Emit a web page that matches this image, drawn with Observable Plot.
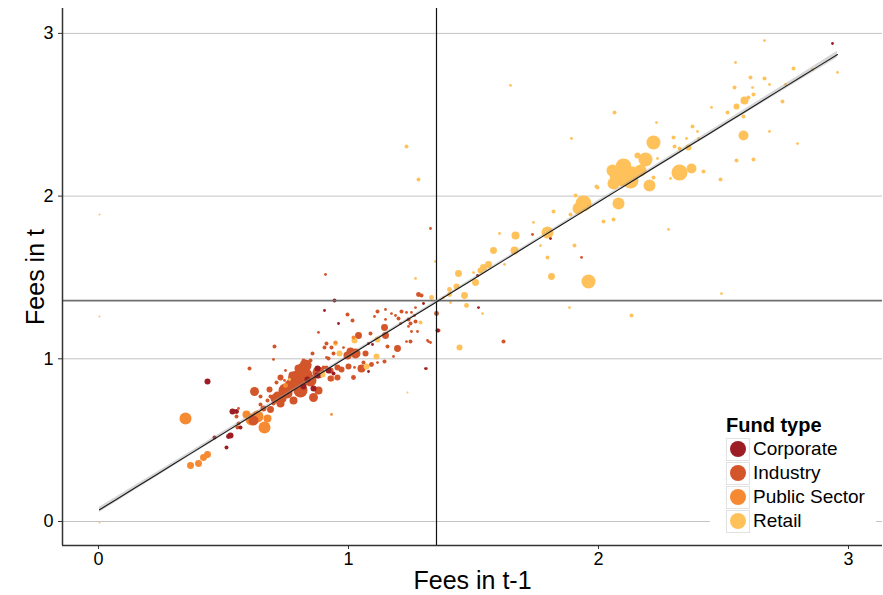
<!DOCTYPE html>
<html><head><meta charset="utf-8">
<script src="https://cdn.jsdelivr.net/npm/d3@7"></script>
<script src="https://cdn.jsdelivr.net/npm/@observablehq/plot@0.6"></script>
<style>
body{margin:0;background:#fff;font-family:"Liberation Sans",Arial,sans-serif;}
#wrap{position:relative;width:883px;height:595px;}
#legend{position:absolute;left:710px;top:406px;width:166px;height:133px;background:#fff;padding-left:16px;box-sizing:border-box;}
#legend .lt{font-weight:bold;font-size:20px;line-height:22px;margin-top:8px;height:23px;color:#000;}
#legend .row{display:flex;align-items:center;height:24px;}
#legend .key{width:24px;height:23px;border:1px solid #e2e2e2;box-sizing:border-box;display:flex;align-items:center;justify-content:center;background:#fff;}
#legend .dot{width:16px;height:16px;border-radius:50%;display:block;}
#legend .lab{font-size:19px;margin-left:3px;color:#000;}
</style></head><body><div id="wrap"></div>
<script>
const fundTypes = ["Corporate","Industry","Public Sector","Retail"];
const fundColors = ["#9c1d23","#d3552a","#f68a32","#ffc25b"];
const xLabel = "Fees in t-1";
const yLabel = "Fees in t";
const tickValues = [0,1,2,3];
const meanFeeT1 = 1.352;
const meanFeeT = 1.358;
// fitted linear model (fees t ~ fees t-1) and its confidence band
const fitIntercept = 0.068;
const fitSlope = 0.948;
const fitBandMin = 0.008;
const fitBandGrowth = 0.0045;

// [fees t-1, fees t, fund assets]
const publicFunds = [
[0.348,0.633,36],[0.592,0.658,16],[0.612,0.627,36],[0.636,0.645,36],[0.664,0.578,36],[0.676,0.633,16],
[0.436,0.412,12],[0.420,0.393,12],[0.400,0.356,12],[0.368,0.344,12],[0.932,0.658,2],[0.948,1.100,4],
[1.020,1.131,4],[0.932,0.879,9],[0.748,0.836,6]];

const industryFunds = [
[0.796,0.867,100],[0.776,0.897,16],[0.728,0.885,9],[0.712,0.854,4],[0.748,0.928,2],[0.744,0.867,2],
[0.860,0.762,20],[0.624,0.799,20],[0.684,0.811,9],[0.648,0.768,4],[0.688,0.768,4],[0.716,0.774,16],
[0.736,0.756,16],[0.700,0.725,4],[0.676,0.744,4],[0.780,0.744,16],[0.648,0.719,4],[0.660,0.695,9],
[0.688,0.688,12],[0.728,0.725,16],[0.560,0.695,2],[0.552,0.645,4],[0.620,0.621,25],[0.560,0.602,4],
[0.556,0.578,4],[0.704,1.076,4],[0.700,0.996,2],[0.604,0.940,4],[0.856,1.033,4],[0.820,0.990,4],
[0.808,0.959,4],[0.844,0.965,4],[0.800,0.940,16],[0.816,0.885,64],[0.880,1.162,2],[0.908,1.518,2],
[0.996,1.272,4],[1.016,1.235,4],[0.912,1.094,4],[0.932,1.069,4],[0.904,1.069,4],[0.980,1.069,2],
[0.940,1.033,4],[0.912,1.008,2],[0.900,0.947,4],[1.008,1.045,16],[1.028,1.033,25],[0.996,1.020,16],
[1.068,1.033,9],[1.060,0.977,4],[1.092,0.965,6],[1.144,0.983,4],[1.180,1.014,2],[1.116,0.977,2],
[0.920,1.002,4],[0.848,0.990,4],[0.836,0.971,9],[0.912,0.947,4],[0.928,0.928,9],[0.956,0.947,9],
[0.972,0.934,9],[1.000,0.953,9],[1.024,0.947,2],[1.052,0.940,16],[1.020,0.885,6],[0.928,0.879,9],
[0.956,0.885,9],[1.088,1.156,4],[1.040,1.143,12],[1.148,1.143,12],[1.196,1.063,12],[1.156,1.076,4],
[1.232,1.106,2],[1.248,1.106,4],[1.320,1.106,2],[1.116,1.291,4],[1.148,1.303,2],[1.172,1.278,2],
[1.188,1.266,2],[1.212,1.291,4],[1.232,1.285,2],[1.252,1.285,2],[1.264,1.266,2],[1.268,1.315,2],
[1.104,1.260,2],[1.144,1.192,12],[1.148,1.242,2],[1.200,1.248,4],[1.208,1.217,2],[1.240,1.242,4],
[1.248,1.217,4],[1.240,1.199,2],[1.252,1.168,2],[1.276,1.168,2],[1.280,1.395,6],[1.292,1.389,4],
[1.352,1.278,6],[1.360,1.174,4],[1.268,1.229,4],[1.316,1.113,2],[1.328,1.100,2],[1.328,1.801,2],
[1.620,1.106,4],[1.312,0.940,2],[0.828,0.897,49],[0.808,0.805,49],[0.768,0.836,36],[0.848,0.867,36],
[0.880,0.805,16],[0.756,0.787,25],[1.736,1.764,2],[1.932,1.623,2],[0.748,0.805,49],[0.828,0.959,36],
[0.880,0.916,36],[0.708,0.756,25]];

const retailFunds = [
[1.648,2.680,2],[2.064,2.514,4],[1.892,2.354,2],[2.232,2.452,2],[2.220,2.329,49],[1.232,2.305,4],
[1.280,2.102,4],[2.100,2.182,64],[2.188,2.225,49],[2.076,2.127,64],[2.136,2.139,49],[2.168,2.157,36],
[2.060,2.077,36],[2.096,2.096,36],[2.204,2.065,36],[2.156,2.250,9],[1.992,2.059,4],[1.940,1.955,64],
[1.920,1.924,36],[1.908,2.004,4],[2.080,1.955,36],[2.664,2.956,2],[2.548,2.821,2],[2.780,2.784,4],
[2.856,2.778,2],[2.956,2.760,2],[2.608,2.729,4],[2.664,2.723,4],[2.684,2.686,2],[2.748,2.686,2],
[2.544,2.667,4],[2.616,2.667,2],[2.620,2.624,4],[2.600,2.606,4],[2.584,2.588,16],[2.552,2.551,9],
[2.736,2.581,4],[2.516,2.514,4],[2.452,2.545,2],[2.580,2.489,4],[2.376,2.428,4],[2.396,2.397,2],
[2.684,2.397,2],[2.580,2.372,25],[2.300,2.360,4],[2.304,2.305,4],[2.324,2.293,4],[2.352,2.354,2],
[2.360,2.299,9],[2.400,2.354,2],[2.796,2.323,2],[2.236,2.231,2],[2.324,2.145,64],[2.372,2.170,25],
[2.220,2.114,4],[2.420,2.151,4],[2.288,2.108,2],[2.552,2.219,4],[2.620,2.225,4],[2.488,2.102,4],
[1.996,2.053,4],[1.820,1.905,4],[1.888,1.887,4],[1.740,1.838,2],[2.020,1.844,4],[2.060,1.856,4],
[2.280,1.795,2],[1.604,1.770,2],[1.668,1.758,16],[1.796,1.776,36],[1.768,1.696,2],[1.904,1.696,4],
[1.580,1.666,12],[1.664,1.666,16],[1.796,1.623,4],[1.624,1.580,2],[1.560,1.580,12],[1.540,1.561,12],
[1.528,1.543,9],[1.500,1.530,2],[1.440,1.524,12],[1.812,1.506,12],[1.268,1.494,2],[1.508,1.469,12],
[1.960,1.475,49],[1.432,1.444,9],[1.404,1.426,6],[1.332,1.377,6],[1.380,1.377,2],[1.404,1.395,6],
[1.464,1.389,12],[1.348,1.598,2],[1.472,1.328,6],[1.536,1.278,2],[1.408,1.346,2],[1.884,1.315,2],
[2.492,1.401,2],[2.132,1.266,4],[1.444,1.069,9],[0.004,-0.006,1],[0.004,1.887,1],[0.004,1.260,1],
[1.288,1.223,4],[1.024,1.112,9],[1.116,1.119,9],[0.948,1.094,6],[0.964,1.033,9],[1.112,1.014,9],
[1.072,0.953,9],[0.896,0.904,9],[0.764,0.873,2],[1.236,0.793,1],[2.128,2.096,64],[2.056,2.157,36]];

const corporateFunds = [
[0.436,0.860,9],[0.536,0.676,9],[0.552,0.676,6],[0.528,0.529,9],[0.520,0.522,6],[0.464,0.516,4],
[0.512,0.455,4],[0.568,0.578,4],[0.876,0.940,9],[0.836,0.873,9],[0.820,0.830,9],[0.860,0.817,9],
[0.920,0.928,9],[0.940,0.910,4],[0.876,0.897,9],[0.944,1.358,4],[0.904,1.297,2],[0.960,1.217,2],
[1.080,1.094,2],[1.096,1.088,2],[1.080,0.922,2],[1.300,1.340,2],[1.520,1.315,2],[2.936,2.938,2],
[1.808,1.739,2],[1.516,1.512,2],[1.356,1.174,4],[1.308,0.940,2]];

const rows = [];
const add = (arr, type) => arr.forEach(([x,y,a]) => rows.push({feesT1:x, feesT:y, assets:a, type}));
add(publicFunds, "Public Sector");
add(industryFunds, "Industry");
add(retailFunds, "Retail");
add(corporateFunds, "Corporate");

// fitted line evaluated across the observed range of fees in t-1
const [fitX0, fitX1] = d3.extent(rows, d => d.feesT1);
const fit = d3.range(0, 41).map(i => {
  const x = fitX0 + (fitX1 - fitX0) * i / 40;
  const y = fitIntercept + fitSlope * x;
  const hw = fitBandMin + fitBandGrowth * (x - meanFeeT1) ** 2;
  return {x, y, lo: y - hw, hi: y + hw};
});

const xDomain = [-0.144, 3.136];
const yDomain = [-0.1475, 3.153];

const chart = Plot.plot({
  width: 883, height: 595,
  marginLeft: 62, marginRight: 1, marginTop: 8, marginBottom: 50,
  style: {fontFamily: '"Liberation Sans", Arial, sans-serif', background: "#fff", color: "#000"},
  x: {domain: xDomain, label: null},
  y: {domain: yDomain, label: null},
  r: {type: "sqrt", domain: [0, 100], range: [0, 10]},
  color: {domain: fundTypes, range: fundColors},
  marks: [
    Plot.gridY(tickValues, {stroke: "#c4c4c4", strokeOpacity: 1, strokeWidth: 1}),
    Plot.dot(rows, {x: "feesT1", y: "feesT", r: "assets", fill: "type", stroke: null}),
    Plot.ruleX([meanFeeT1], {stroke: "#111", strokeWidth: 1.2}),
    Plot.ruleY([meanFeeT], {stroke: "#6e6e6e", strokeWidth: 1.8}),
    Plot.areaY(fit, {x: "x", y1: "lo", y2: "hi", fill: "#999", fillOpacity: 0.4}),
    Plot.lineY(fit, {x: "x", y: "y", stroke: "#1a1a1a", strokeWidth: 1.1}),
    Plot.ruleX([xDomain[0]], {stroke: "#333", strokeWidth: 1.5}),
    Plot.ruleY([yDomain[0]], {stroke: "#333", strokeWidth: 1.5}),
    Plot.axisX(tickValues, {tickSize: 4, tickPadding: 3, fontSize: 18, stroke: "#333", fill: "#000", label: null, tickFormat: d => String(d)}),
    Plot.axisY(tickValues, {tickSize: 4, tickPadding: 5, fontSize: 18, stroke: "#333", fill: "#000", label: null, tickFormat: d => String(d)}),
    Plot.text([xLabel], {frameAnchor: "bottom", text: d => d, dy: 43, fontSize: 25, fill: "#000"}),
    Plot.text([yLabel], {frameAnchor: "left", text: d => d, textAnchor: "middle", dx: -27, rotate: -90, fontSize: 25, fill: "#000"})
  ]
});
const wrap = document.getElementById("wrap");
wrap.appendChild(chart);

const legend = document.createElement("div");
legend.id = "legend";
const lt = document.createElement("div");
lt.className = "lt"; lt.textContent = "Fund type";
legend.appendChild(lt);
fundTypes.forEach((t, i) => {
  const row = document.createElement("div"); row.className = "row";
  const key = document.createElement("span"); key.className = "key";
  const dot = document.createElement("span"); dot.className = "dot"; dot.style.background = fundColors[i];
  key.appendChild(dot);
  const lab = document.createElement("span"); lab.className = "lab"; lab.textContent = t;
  row.appendChild(key); row.appendChild(lab);
  legend.appendChild(row);
});
wrap.appendChild(legend);
</script>
</body></html>
